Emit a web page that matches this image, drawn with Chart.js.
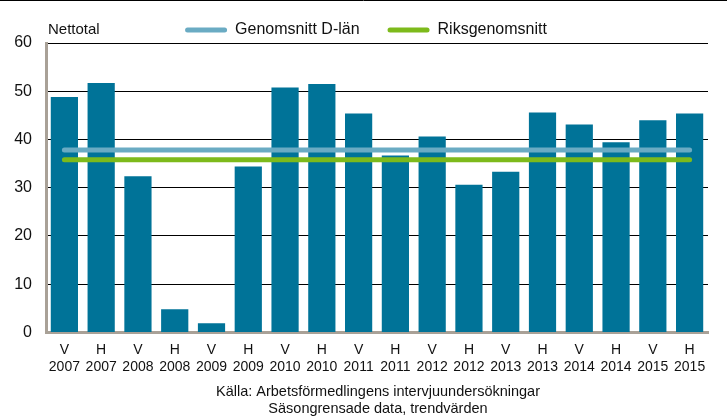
<!DOCTYPE html>
<html>
<head>
<meta charset="utf-8">
<script src="https://cdn.jsdelivr.net/npm/chart.js@4"></script>
<style>
  body { margin: 0; background: #fff; }
</style>
</head>
<body>
<canvas id="nettotal" width="727" height="420"></canvas>
<script>
// halvår (V = vår, H = höst) och år
var halves = ["V","H","V","H","V","H","V","H","V","H","V","H","V","H","V","H","V","H"];
var years = ["2007","2007","2008","2008","2009","2009","2010","2010","2011","2011","2012","2012","2013","2013","2014","2014","2015","2015"];
var nettotal = [48.8, 51.7, 32.4, 4.8, 1.9, 34.4, 50.8, 51.5, 45.4, 36.7, 40.6, 30.6, 33.3, 45.6, 43.1, 39.4, 44.0, 45.4];
var dlanAvg = [37.8, 37.8, 37.8, 37.8, 37.8, 37.8, 37.8, 37.8, 37.8, 37.8, 37.8, 37.8, 37.8, 37.8, 37.8, 37.8, 37.8, 37.8];
var riksAvg = [35.8, 35.8, 35.8, 35.8, 35.8, 35.8, 35.8, 35.8, 35.8, 35.8, 35.8, 35.8, 35.8, 35.8, 35.8, 35.8, 35.8, 35.8];
var yTicks = [0, 10, 20, 30, 40, 50, 60];
var caption = ["Källa: Arbetsförmedlingens intervjuundersökningar", "Säsongrensade data, trendvärden"];

var labels = halves.map(function (h, i) { return [h, years[i]]; });

var sans = "'Liberation Sans', Arial, sans-serif";

// vit bakgrund, ram upptill och "Nettotal"
var extras = {
  id: "extras",
  beforeDraw: function (chart) {
    var ctx = chart.ctx;
    ctx.save();
    ctx.fillStyle = "#fff";
    ctx.fillRect(0, 0, chart.width, chart.height);
    ctx.restore();
  },
  afterLayout: function (chart) {
    // legend och källtext sitter lite till höger om mitten i originalet
    chart.legend.left += 12; chart.legend.right += 12;
    chart.titleBlock.left += 24; chart.titleBlock.right += 24;
  },
  afterDraw: function (chart) {
    var ctx = chart.ctx, a = chart.chartArea;
    ctx.save();
    ctx.strokeStyle = "#000";
    ctx.lineWidth = 1;
    ctx.beginPath();
    ctx.moveTo(0, 0.5);
    ctx.lineTo(chart.width, 0.5);
    ctx.stroke();
    ctx.fillStyle = "#111";
    ctx.font = "15px " + sans;
    ctx.textBaseline = "middle";
    ctx.fillText("Nettotal", a.left + 2, a.top - 13);
    ctx.restore();
  }
};

new Chart("nettotal", {
  type: "bar",
  data: {
    labels: labels,
    datasets: [
      {
        type: "line",
        label: "Genomsnitt D-län",
        data: dlanAvg,
        borderColor: "#6AABC3",
        backgroundColor: "#6AABC3",
        borderWidth: 5,
        borderCapStyle: "round",
        pointRadius: 0,
        order: 0
      },
      {
        type: "line",
        label: "Riksgenomsnitt",
        data: riksAvg,
        borderColor: "#7DBA1B",
        backgroundColor: "#7DBA1B",
        borderWidth: 5,
        borderCapStyle: "round",
        pointRadius: 0,
        order: 0
      },
      {
        label: "Nettotal",
        data: nettotal,
        backgroundColor: "#007398",
        categoryPercentage: 1,
        barPercentage: 0.74,
        order: 1
      }
    ]
  },
  plugins: [extras],
  options: {
    responsive: false,
    animation: false,
    layout: { padding: { left: 0, right: 19, top: -6, bottom: 0 } },
    plugins: {
      tooltip: { enabled: false },
      legend: {
        position: "top",
        maxHeight: 49,
        labels: {
          boxWidth: 42,
          boxHeight: 5,
          useBorderRadius: true,
          borderRadius: 2.5,
          padding: 28,
          color: "#111",
          font: { family: sans, size: 16 },
          filter: function (item) { return item.text !== "Nettotal"; },
          generateLabels: function (chart) {
            var items = Chart.defaults.plugins.legend.labels.generateLabels(chart);
            items.forEach(function (it) { it.lineWidth = 0; });
            return items;
          }
        }
      },
      title: {
        display: true,
        position: "bottom",
        text: caption,
        color: "#111",
        font: { family: sans, size: 14.5, weight: "normal", lineHeight: 1.17 },
        padding: { top: 6, bottom: 3 }
      }
    },
    scales: {
      x: {
        afterFit: function (s) { s.height -= 8.5; },
        grid: { display: false, drawTicks: false },
        border: { color: "#A9A197", width: 3 },
        ticks: {
          color: "#111",
          padding: 9.5,
          maxRotation: 0,
          autoSkip: false,
          font: { family: sans, size: 14, lineHeight: 1.22 }
        }
      },
      y: {
        min: 0,
        max: 60,
        afterFit: function (s) { s.width = 46; },
        afterBuildTicks: function (s) { s.ticks = yTicks.map(function (v) { return { value: v }; }); },
        grid: { color: "#000", lineWidth: 1, drawTicks: false },
        border: { color: "#A9A197", width: 3 },
        ticks: {
          color: "#111",
          padding: 14,
          font: { family: sans, size: 16 }
        }
      }
    }
  }
});
</script>
</body>
</html>
